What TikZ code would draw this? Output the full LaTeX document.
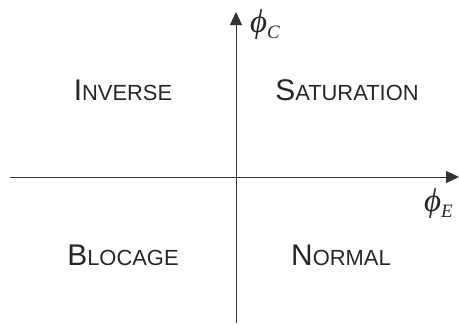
\documentclass[tikz,border=0pt]{standalone}
\usepackage{fontspec}
\setmainfont{Liberation Sans}
\newfontfamily\tmsfont{Liberation Serif}
\usetikzlibrary{arrows.meta}
\newcommand{\capbig}[1]{{\fontsize{30}{30}\selectfont #1}}
\newcommand{\capsmall}[1]{{\fontsize{22}{22}\selectfont #1}}
\newcommand{\phisym}[1]{{\tmsfont\itshape\fontsize{33}{33}\selectfont ϕ}\raisebox{-6bp}{\tmsfont\itshape\fontsize{19}{19}\selectfont #1}}
\begin{document}
\begin{tikzpicture}[x=1bp,y=-1bp,
  axis/.style={draw=black!80,line width=0.9bp,-{Triangle[length=13bp,width=12bp]}},
  word/.style={anchor=base,inner sep=0pt,text=black!85},
  lab/.style={anchor=base west,inner sep=0pt,text=black!85}]
\useasboundingbox (0,0) rectangle (459,324);
\coordinate (xs) at (10,177);
\coordinate (xe) at (459,177);
\coordinate (ys) at (236,323);
\coordinate (ye) at (236,12);
\draw[axis] (xs) -- (xe);
\draw[axis] (ys) -- (ye);
\node[lab] (pc) at (250,32) {\phisym{C}};
\node[lab] (pe) at (424,211) {\phisym{E}};
\node[word] (inv) at (123,100) {\capbig{I}\capsmall{NVERSE}};
\node[word] (sat) at (347,100) {\capbig{S}\capsmall{ATURATION}};
\node[word] (blo) at (123,265) {\capbig{B}\capsmall{LOCAGE}};
\node[word] (nor) at (341,265) {\capbig{N}\capsmall{ORMAL}};
\end{tikzpicture}
\end{document}
